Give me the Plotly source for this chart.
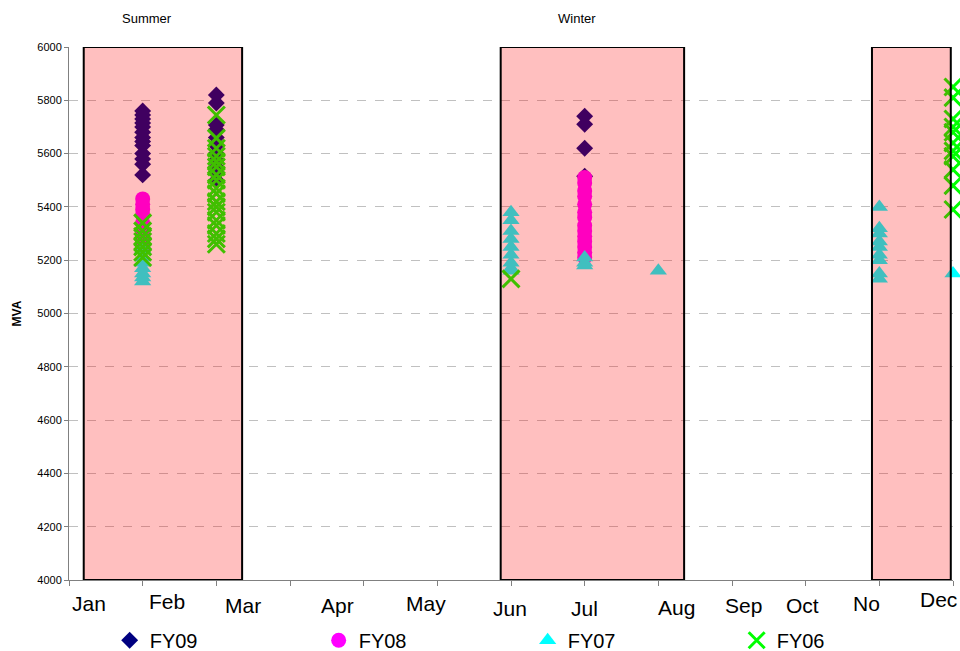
import plotly.graph_objects as go

# ---------------- data ----------------
month_labels = ["Jan", "Feb", "Mar", "Apr", "May", "Jun", "Jul", "Aug", "Sep", "Oct", "No", "Dec"]
month_pos = {"Feb": 1, "Mar": 2, "Jun": 6, "Jul": 7, "Aug": 8, "Nov": 11, "Dec": 12}

fy09_feb = [5760, 5745, 5730, 5715, 5700, 5680, 5660, 5645, 5630, 5600, 5580, 5560, 5520]
fy09_mar = [5820, 5790, 5707, 5690, 5660, 5630, 5600, 5575, 5550, 5530, 5500]
fy09_jul = [5740, 5710, 5620, 5515]

fy08_feb = [5430, 5410, 5390, 5370, 5340, 5310, 5290, 5270, 5250]
fy08_jul = [5510, 5490, 5460, 5440, 5410, 5380, 5360, 5330, 5310, 5290, 5270, 5250, 5230, 5210]

fy07_feb = [5240, 5210, 5190, 5170, 5150, 5135, 5120]
fy07_jun = [5380, 5350, 5310, 5280, 5250, 5220, 5190, 5170, 5160]
fy07_jul = [5210, 5190, 5180]
fy07_aug = [5160]
fy07_nov = [5400, 5320, 5300, 5270, 5250, 5220, 5200, 5150, 5130]
fy07_dec = [5150]

fy06_feb = [5340, 5310, 5290, 5270, 5250, 5230, 5210]
fy06_mar = [5745, 5658, 5620, 5590, 5570, 5550, 5520, 5500, 5470, 5450, 5420,
            5400, 5380, 5350, 5330, 5300, 5280, 5260]
fy06_jun = [5130]
fy06_dec = [5850, 5810, 5730, 5700, 5680, 5640, 5610, 5590, 5540, 5480, 5390]

season_labels = ["Summer", "Winter"]


def xy(groups):
    xs, ys = [], []
    for m, vals in groups:
        xs += [month_pos[m]] * len(vals)
        ys += vals
    return xs, ys


series = [
    ("FY09", xy([("Feb", fy09_feb), ("Mar", fy09_mar), ("Jul", fy09_jul)]),
     dict(symbol="diamond", size=13, color="#000080")),
    ("FY08", xy([("Feb", fy08_feb), ("Jul", fy08_jul)]),
     dict(symbol="circle", size=15, color="#FF00FF")),
    ("FY07", xy([("Feb", fy07_feb), ("Jun", fy07_jun), ("Jul", fy07_jul),
                 ("Aug", fy07_aug), ("Nov", fy07_nov), ("Dec", fy07_dec)]),
     dict(symbol="triangle-up", size=15, color="#00FFFF")),
    ("FY06", xy([("Feb", fy06_feb), ("Mar", fy06_mar), ("Jun", fy06_jun), ("Dec", fy06_dec)]),
     dict(symbol="x-thin", size=17, color="#00FF00", line=dict(color="#00FF00", width=3))),
]

FONT = "Arial, 'Liberation Sans', sans-serif"

fig = go.Figure()
for name, (xs, ys), mk in series:
    fig.add_trace(go.Scatter(x=xs, y=ys, mode="markers", name=name, marker=mk,
                             cliponaxis=False))

# shaded season boxes (drawn above the markers, semi-transparent)
boxes = [(0.2, 2.35), (5.86, 8.35), (10.9, 11.97)]
for x0, x1 in boxes:
    fig.add_shape(type="rect", xref="x", yref="y", x0=x0, x1=x1, y0=4000, y1=6000,
                  fillcolor="rgba(255,0,0,0.25)", line=dict(color="black", width=2),
                  layer="above")

# month labels (manually placed text boxes in the original)
label_x = [0.27, 1.33, 2.36, 3.65, 4.85, 5.99, 7.0, 8.25, 9.15, 9.96, 10.82, 11.8]
label_ypx = [603, 601, 605, 605, 603, 608, 608, 607, 605, 605, 603, 599]
for t, xv, yp in zip(month_labels, label_x, label_ypx):
    fig.add_annotation(x=xv, y=(580 - yp) / 533, xref="x", yref="paper", text=t,
                       showarrow=False, xanchor="center", yanchor="middle",
                       font=dict(family=FONT, size=21, color="black"))

season_x = [1.06, 6.9]
for t, xv in zip(season_labels, season_x):
    fig.add_annotation(x=xv, y=(580 - 18) / 533, xref="x", yref="paper", text=t,
                       showarrow=False, xanchor="center", yanchor="middle",
                       font=dict(family=FONT, size=13, color="black"))

fig.update_layout(
    width=960, height=651,
    margin=dict(l=69, r=7, t=47, b=71, autoexpand=False),
    paper_bgcolor="white", plot_bgcolor="white",
    font=dict(family=FONT, color="black"),
    showlegend=True,
    legend=dict(orientation="h", x=0.046, y=-0.113, xanchor="left", yanchor="middle",
                entrywidth=164, entrywidthmode="pixels",
                font=dict(family=FONT, size=20, color="black"),
                bgcolor="rgba(0,0,0,0)", tracegroupgap=0),
    xaxis=dict(range=[0, 12], tickmode="linear", tick0=0, dtick=1, showticklabels=False,
               showgrid=False, zeroline=False, showline=True, linecolor="#808080",
               linewidth=1, ticks="outside", ticklen=5, tickcolor="#808080"),
    yaxis=dict(range=[4000, 6000], tickmode="linear", tick0=4000, dtick=200,
               showgrid=True, gridcolor="#c0c0c0", griddash="dash", gridwidth=1,
               zeroline=False, showline=True, linecolor="#808080", linewidth=1,
               ticks="outside", ticklen=4, tickcolor="#808080",
               tickfont=dict(family=FONT, size=11, color="black"),
               title=dict(text="<b>MVA</b>", font=dict(family=FONT, size=12, color="black"),
                          standoff=13)),
)

fig.write_html("out.html")
